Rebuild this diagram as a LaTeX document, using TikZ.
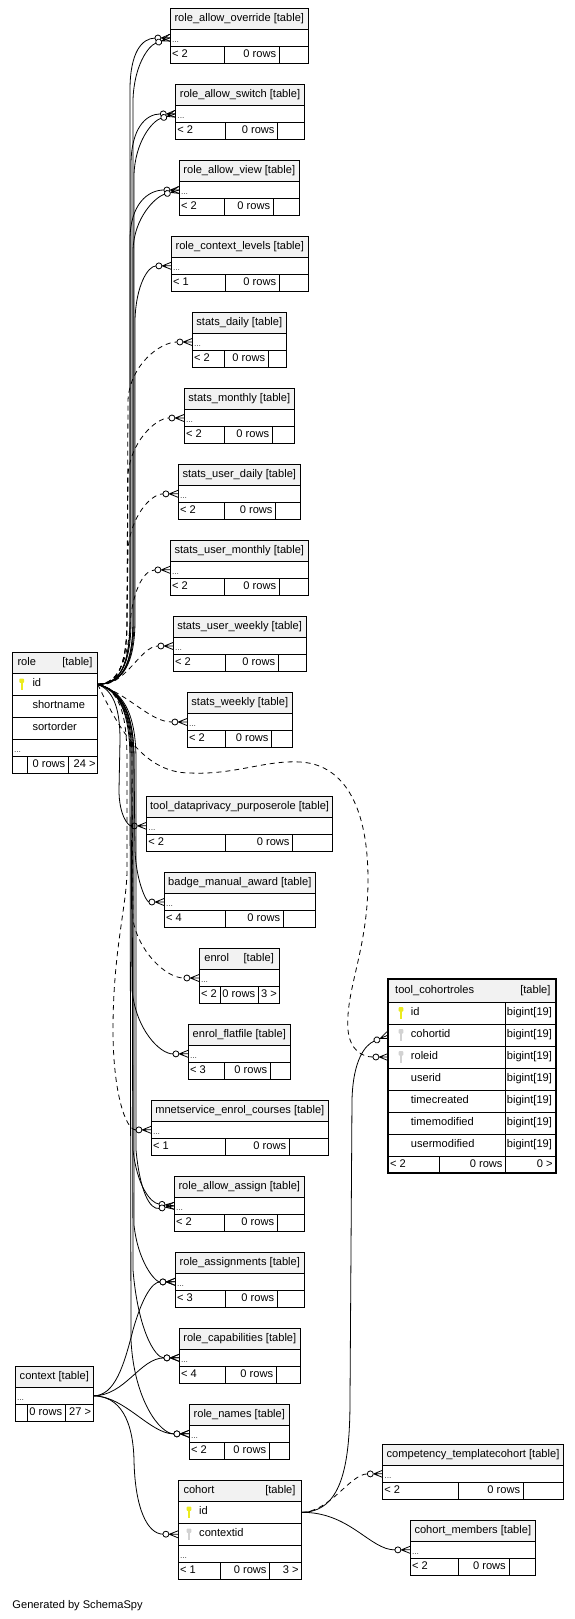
\documentclass[tikz,border=0pt]{standalone}
\usepackage{fontspec}
\setmainfont{Liberation Sans}
\usetikzlibrary{arrows.meta}
\definecolor{hdrgray}{HTML}{F2F2F2}
\definecolor{pkey}{HTML}{EBEB1E}
\definecolor{fkey}{HTML}{D2D2D2}

\pgfdeclarearrow{
  name = crowodot,
  setup code = {
    \pgfarrowssettipend{0pt}
    \pgfarrowssetlineend{-15.3pt}
    \pgfarrowssetbackend{-15.5pt}
    \pgfarrowssetvisualbackend{-15.5pt}
    \pgfarrowshullpoint{0pt}{3.8pt}
    \pgfarrowshullpoint{0pt}{-3.8pt}
    \pgfarrowshullpoint{-15.5pt}{3.2pt}
    \pgfarrowshullpoint{-15.5pt}{-3.2pt}
  },
  drawing code = {
    \pgfsetdash{}{0pt}
    \pgfpathmoveto{\pgfqpoint{-9pt}{0pt}}
    \pgfpathlineto{\pgfqpoint{0pt}{0pt}}
    \pgfpathmoveto{\pgfqpoint{-9pt}{0pt}}
    \pgfpathlineto{\pgfqpoint{0pt}{3.6pt}}
    \pgfpathmoveto{\pgfqpoint{-9pt}{0pt}}
    \pgfpathlineto{\pgfqpoint{0pt}{-3.6pt}}
    \pgfusepathqstroke
    \pgfsetfillcolor{white}
    \pgfpathcircle{\pgfqpoint{-12.4pt}{0pt}}{3pt}
    \pgfusepathqfillstroke
  }
}

\pgfdeclarelayer{bg}
\pgfsetlayers{bg,main}

\tikzset{
  cell/.style={draw, line width=0.9pt, fill=white, inner sep=0pt, outer sep=0pt, anchor=north west},
  hcell/.style={cell, fill=hdrgray},
  txt/.style={inner sep=0pt, font=\fontsize{11.1}{13}\selectfont},
  dotstxt/.style={inner sep=0pt, font=\fontsize{8.5}{9}\selectfont, text=black!75},
  fk/.style={line width=0.8pt, -{crowodot[]}},
  fkd/.style={fk, dash pattern=on 5pt off 4pt},
}

% simple table: name, title, x1, x2, ytop, div1, div2, left footer, right footer
\newcommand\stbl[9]{%
  \pgfmathsetmacro\tbA{#5+21}%
  \pgfmathsetmacro\tbB{#5+38}%
  \node[hcell, minimum width={(#4-#3)*1pt}, minimum height=21pt] (#1-h) at (#3,#5) {};
  \node[cell, minimum width={(#4-#3)*1pt}, minimum height=17pt] (#1-d) at (#3,\tbA) {};
  \node[cell, minimum width={(#6-#3)*1pt}, minimum height=16.7pt] (#1-f1) at (#3,\tbB) {};
  \node[cell, minimum width={(#7-#6)*1pt}, minimum height=16.7pt] (#1-f2) at (#6,\tbB) {};
  \node[cell, minimum width={(#4-#7)*1pt}, minimum height=16.7pt] (#1-f3) at (#7,\tbB) {};
  \node[txt, anchor=mid] (#1-t) at (#1-h.center) {#2};
  \node[dotstxt, anchor=mid west] (#1-dt) at ([xshift=1.5pt,yshift=-2pt]#1-d.west) {...};
  \node[txt, anchor=mid west] (#1-fl) at ([xshift=1.5pt]#1-f1.west) {#8};
  \node[txt, anchor=mid east] (#1-fm) at ([xshift=-3pt]#1-f2.east) {0 rows};
  \node[txt, anchor=mid east] (#1-fr) at ([xshift=-2pt]#1-f3.east) {#9};
}

\newcommand\keyico[3]{%
  \fill[#3, rounded corners=0.8pt] ({#1-2.3},{#2-5.8}) rectangle ({#1+2.3},{#2-1.4});
  \fill[#3] ({#1-0.9},{#2-2}) rectangle ({#1+0.9},{#2+5.8});
}

\begin{document}
\begin{tikzpicture}[x=1pt,y=-1pt]
\useasboundingbox (0,0) rectangle (575,1619);
\begin{pgfonlayer}{bg}
\fill[white] (0,0) rectangle (575,1619);
\end{pgfonlayer}

% ---------- role ----------
\node[hcell, minimum width=85.4pt, minimum height=21pt] (role-h) at (12.3,652.3) {};
\node[cell, minimum width=85.4pt, minimum height=22pt] (role-id) at (12.3,673.3) {};
\node[cell, minimum width=85.4pt, minimum height=22pt] (role-sn) at (12.3,695.3) {};
\node[cell, minimum width=85.4pt, minimum height=22pt] (role-so) at (12.3,717.3) {};
\node[cell, minimum width=85.4pt, minimum height=17pt] (role-d) at (12.3,739.3) {};
\node[cell, minimum width=15.4pt, minimum height=16.7pt] (role-f1) at (12.3,756.3) {};
\node[cell, minimum width=40.3pt, minimum height=16.7pt] (role-f2) at (27.7,756.3) {};
\node[cell, minimum width=29.7pt, minimum height=16.7pt] (role-f3) at (68,756.3) {};
\node[txt, anchor=mid west] (role-t) at ([xshift=5pt]role-h.west) {role};
\node[txt, anchor=mid east] (role-tt) at ([xshift=-5pt]role-h.east) {[table]};
\node[txt, anchor=mid west] (role-idt) at ([xshift=20pt]role-id.west) {id};
\node[txt, anchor=mid west] (role-snt) at ([xshift=20pt]role-sn.west) {shortname};
\node[txt, anchor=mid west] (role-sot) at ([xshift=20pt]role-so.west) {sortorder};
\node[dotstxt, anchor=mid west] (role-dt) at ([xshift=1.5pt,yshift=-2pt]role-d.west) {...};
\node[txt, anchor=mid east] (role-fm) at ([xshift=-2.5pt]role-f2.east) {0 rows};
\node[txt, anchor=mid east] (role-fr) at ([xshift=-2pt]role-f3.east) {24 >};
\keyico{21.7}{684.3}{pkey}

% ---------- simple tables ----------
\stbl{rao}{role\_allow\_override [table]}{170.3}{308.3}{8.3}{224.7}{279.3}{< 2}{}
\stbl{ras}{role\_allow\_switch [table]}{175.7}{304.3}{84.3}{225.7}{277.7}{< 2}{}
\stbl{rav}{role\_allow\_view [table]}{179.3}{299.3}{160.5}{224.3}{273.3}{< 2}{}
\stbl{rcl}{role\_context\_levels [table]}{171.3}{308.3}{236.3}{225.7}{279.3}{< 1}{}
\stbl{sd}{stats\_daily [table]}{192.3}{286.3}{312.5}{224.3}{268.3}{< 2}{}
\stbl{sm}{stats\_monthly [table]}{184.3}{294.3}{388.5}{224.3}{272.3}{< 2}{}
\stbl{sud}{stats\_user\_daily [table]}{178.3}{300.3}{464.3}{224.3}{275.7}{< 2}{}
\stbl{sum}{stats\_user\_monthly [table]}{170.3}{308.3}{540.3}{224.3}{279.3}{< 2}{}
\stbl{suw}{stats\_user\_weekly [table]}{173.3}{306}{616.5}{225.7}{278.3}{< 2}{}
\stbl{sw}{stats\_weekly [table]}{187.3}{292.3}{692.5}{225.7}{271.7}{< 2}{}
\stbl{tdp}{tool\_dataprivacy\_purposerole [table]}{146.7}{332.5}{796.3}{225.7}{292.7}{< 2}{}
\stbl{bma}{badge\_manual\_award [table]}{164.3}{315.3}{872.5}{225.7}{283.3}{< 4}{}
\stbl{en}{\makebox[69.5pt]{enrol\hfill[table]}}{199.3}{279}{948.5}{220.3}{258.3}{< 2}{3 >}
\stbl{ef}{enrol\_flatfile [table]}{188.3}{290.3}{1024.3}{224.3}{270.3}{< 3}{}
\stbl{mec}{mnetservice\_enrol\_courses [table]}{151.3}{328.3}{1100.3}{225.7}{289.3}{< 1}{}
\stbl{raa}{role\_allow\_assign [table]}{174.3}{304.3}{1176.3}{224.3}{277.3}{< 2}{}
\stbl{rasg}{role\_assignments [table]}{175.3}{304.3}{1252.3}{225.7}{277.3}{< 3}{}
\stbl{rc}{role\_capabilities [table]}{179.3}{300.3}{1328.3}{225.7}{276.3}{< 4}{}
\stbl{rn}{role\_names [table]}{189.3}{289.3}{1404.3}{224.3}{269.3}{< 2}{}
\stbl{ctc}{competency\_templatecohort [table]}{382.7}{563.3}{1444.3}{458.3}{523.3}{< 2}{}
\stbl{cm}{cohort\_members [table]}{410.3}{535.3}{1520.3}{458.3}{509}{< 2}{}
\stbl{ctx}{context [table]}{15.3}{93.3}{1366.3}{27.3}{65.3}{}{27 >}

% ---------- cohort ----------
\node[hcell, minimum width=123.4pt, minimum height=21pt] (co-h) at (178.3,1480.3) {};
\node[cell, minimum width=123.4pt, minimum height=22pt] (co-id) at (178.3,1501.3) {};
\node[cell, minimum width=123.4pt, minimum height=22pt] (co-cid) at (178.3,1523.3) {};
\node[cell, minimum width=123.4pt, minimum height=17pt] (co-d) at (178.3,1545.3) {};
\node[cell, minimum width=42pt, minimum height=17pt] (co-f1) at (178.3,1562.3) {};
\node[cell, minimum width=49.4pt, minimum height=17pt] (co-f2) at (220.3,1562.3) {};
\node[cell, minimum width=32pt, minimum height=17pt] (co-f3) at (269.7,1562.3) {};
\node[txt, anchor=mid west] (co-t) at ([xshift=5pt]co-h.west) {cohort};
\node[txt, anchor=mid east] (co-tt) at ([xshift=-6pt]co-h.east) {[table]};
\node[txt, anchor=mid west] (co-idt) at ([xshift=20.7pt]co-id.west) {id};
\node[txt, anchor=mid west] (co-cidt) at ([xshift=20.7pt]co-cid.west) {contextid};
\node[dotstxt, anchor=mid west] (co-dt) at ([xshift=1.5pt,yshift=-2pt]co-d.west) {...};
\node[txt, anchor=mid west] (co-fl) at ([xshift=1.5pt]co-f1.west) {< 1};
\node[txt, anchor=mid east] (co-fm) at ([xshift=-3pt]co-f2.east) {0 rows};
\node[txt, anchor=mid east] (co-fr) at ([xshift=-3pt]co-f3.east) {3 >};
\keyico{189}{1512.3}{pkey}
\keyico{189}{1534.3}{fkey}

% ---------- tool_cohortroles ----------
\node[hcell, minimum width=167.4pt, minimum height=22.7pt] (tcr-h) at (388.3,979.3) {};
\foreach \i/\nm in {1/id,2/cohortid,3/roleid,4/userid,5/timecreated,6/timemodified,7/usermodified}{
  \pgfmathsetmacro\ry{1002+(\i-1)*22}
  \node[cell, minimum width=117.4pt, minimum height=22pt] (tcr-r\i) at (388.3,\ry) {};
  \node[cell, minimum width=50pt, minimum height=22pt] (tcr-ty\i) at (505.7,\ry) {};
  \node[txt, anchor=mid west] (tcr-n\i) at ([xshift=22.4pt]tcr-r\i.west) {\nm};
  \node[txt, anchor=mid west] (tcr-tt\i) at ([xshift=1pt]tcr-ty\i.west) {bigint[19]};
}
\node[cell, minimum width=51pt, minimum height=17.3pt] (tcr-f1) at (388.3,1156) {};
\node[cell, minimum width=66.4pt, minimum height=17.3pt] (tcr-f2) at (439.3,1156) {};
\node[cell, minimum width=50pt, minimum height=17.3pt] (tcr-f3) at (505.7,1156) {};
\node[txt, anchor=mid west] (tcr-t) at ([xshift=6.7pt]tcr-h.west) {tool\_cohortroles};
\node[txt, anchor=mid east] (tcr-tt) at ([xshift=-5pt]tcr-h.east) {[table]};
\node[txt, anchor=mid west] (tcr-fl) at ([xshift=1.5pt]tcr-f1.west) {< 2};
\node[txt, anchor=mid east] (tcr-fm) at ([xshift=-3pt]tcr-f2.east) {0 rows};
\node[txt, anchor=mid east] (tcr-fr) at ([xshift=-3pt]tcr-f3.east) {0 >};
\draw[line width=2pt] (tcr-h.north west) rectangle (tcr-f3.south east);
\keyico{401}{1013}{pkey}
\keyico{401}{1035}{fkey}
\keyico{401}{1057}{fkey}

\node[txt, anchor=mid west] (gen) at (12.3,1605.7) {Generated by SchemaSpy};

% ---------- connectors ----------
\begin{pgfonlayer}{bg}
% role -> upper tables
\draw[fk] (role-id.east) .. controls (120,684) and (130,665) .. (130,620) -- (130,90) .. controls (130,52) and (142,38.3) .. (rao-d.west);
\draw[fk] (role-id.east) .. controls (122,684) and (133,665) .. (133,620) -- (133,100) .. controls (134,66) and (148,46) .. (rao-d.west);
\draw[fk] (role-id.east) .. controls (120,684) and (131,665) .. (131,620) -- (131,165) .. controls (131,128) and (146,114) .. (ras-d.west);
\draw[fk] (role-id.east) .. controls (122,684) and (134,665) .. (134,620) -- (134,175) .. controls (135,142) and (152,121) .. (ras-d.west);
\draw[fk] (role-id.east) .. controls (120,684) and (130,665) .. (130,620) -- (130,240) .. controls (130,204) and (148,190) .. (rav-d.west);
\draw[fk] (role-id.east) .. controls (122,684) and (133,665) .. (133,620) -- (133,250) .. controls (134,218) and (155,197) .. (rav-d.west);
\draw[fk] (role-id.east) .. controls (122,684) and (135,665) .. (135,620) -- (135,320) .. controls (136,285) and (148,266) .. (rcl-d.west);
\draw[fkd] (role-id.east) .. controls (118,684) and (127,665) .. (127,620) -- (128,400) .. controls (130,365) and (160,342) .. (sd-d.west);
\draw[fkd] (role-id.east) .. controls (118,684) and (127,665) .. (127,620) -- (128,475) .. controls (130,443) and (155,418) .. (sm-d.west);
\draw[fkd] (role-id.east) .. controls (118,684) and (127,665) .. (127,620) -- (128,550) .. controls (130,518) and (150,494) .. (sud-d.west);
\draw[fkd] (role-id.east) .. controls (118,684) and (128,660) .. (130,625) .. controls (132,595) and (142,570) .. (sum-d.west);
\draw[fkd] (role-id.east) .. controls (125,688) and (140,646) .. (suw-d.west);
\draw[fkd] (role-id.east) .. controls (130,695) and (150,722) .. (sw-d.west);
% role -> tool_cohortroles
\draw[fkd] (role-id.east) .. controls (115,720) and (140,773) .. (190,773) .. controls (235,775) and (265,760) .. (300,762) .. controls (340,764) and (368,800) .. (368,880) .. controls (368,950) and (345,990) .. (348,1030) .. controls (350,1050) and (362,1057) .. (tcr-r3.west);
% role -> lower tables
\draw[fk] (role-id.east) .. controls (112,690) and (120,705) .. (120,740) -- (119,790) .. controls (119,815) and (128,826) .. (tdp-d.west);
\draw[fk] (role-id.east) .. controls (120,690) and (134,710) .. (134,760) -- (135,850) .. controls (136,880) and (146,902) .. (bma-d.west);
\draw[fkd] (role-id.east) .. controls (118,690) and (132,710) .. (132,760) -- (133,920) .. controls (138,950) and (165,978) .. (en-d.west);
\draw[fk] (role-id.east) .. controls (118,690) and (131,710) .. (131,760) -- (132,990) .. controls (136,1030) and (160,1054) .. (ef-d.west);
\draw[fkd] (role-id.east) .. controls (118,690) and (127,710) .. (127,760) -- (127,870) .. controls (127,905) and (113,950) .. (113,1030) .. controls (113,1090) and (125,1130) .. (mec-d.west);
\draw[fk] (role-id.east) .. controls (120,690) and (133,710) .. (133,760) -- (133,1150) .. controls (137,1185) and (150,1203) .. (raa-d.west);
\draw[fk] (role-id.east) .. controls (121,690) and (136,710) .. (136,760) -- (136,1150) .. controls (140,1192) and (150,1210) .. (raa-d.west);
\draw[fk] (role-id.east) .. controls (120,690) and (134,710) .. (134,760) -- (134,1225) .. controls (138,1262) and (155,1282) .. (rasg-d.west);
\draw[fk] (role-id.east) .. controls (119,690) and (132,710) .. (132,760) -- (133,1270) .. controls (138,1330) and (155,1358) .. (rc-d.west);
\draw[fk] (role-id.east) .. controls (118,690) and (130,710) .. (130,760) -- (131,1340) .. controls (134,1400) and (160,1434) .. (rn-d.west);
% context
\draw[fk] (ctx-d.east) .. controls (115,1396) and (124,1365) .. (133,1330) .. controls (142,1298) and (152,1282) .. (rasg-d.west);
\draw[fk] (ctx-d.east) .. controls (125,1396) and (140,1358) .. (rc-d.west);
\draw[fk] (ctx-d.east) .. controls (125,1396) and (150,1434) .. (rn-d.west);
\draw[fk] (ctx-d.east) .. controls (120,1396) and (133,1420) .. (134,1460) .. controls (135,1510) and (148,1534) .. (co-cid.west);
% cohort
\draw[fk] (co-id.east) .. controls (340,1512) and (350,1470) .. (350,1400) -- (352,1100) .. controls (353,1060) and (365,1045) .. (tcr-r2.west);
\draw[fkd] (co-id.east) .. controls (330,1512) and (350,1474) .. (ctc-d.west);
\draw[fk] (co-id.east) .. controls (350,1512) and (370,1550) .. (cm-d.west);
\end{pgfonlayer}
\end{tikzpicture}
\end{document}
